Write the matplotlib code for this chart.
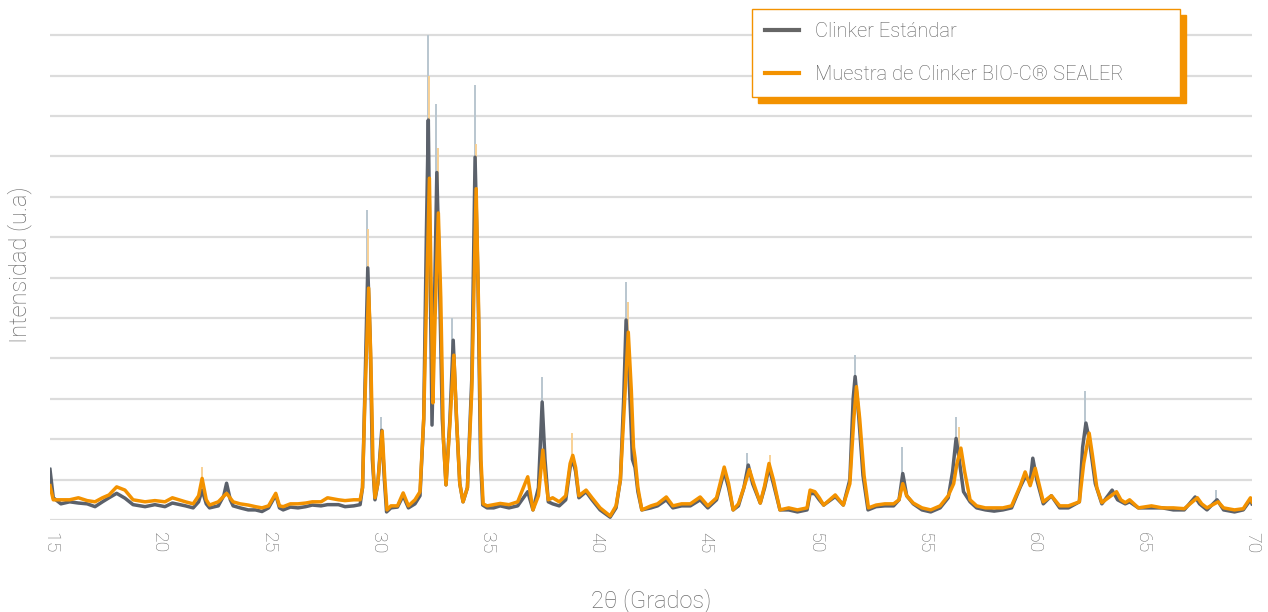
import matplotlib
matplotlib.use("Agg")
import matplotlib.pyplot as plt
import numpy as np

# ---------------- data ----------------
std_x = [15.0, 15.15, 15.5, 15.9, 16.3, 16.7, 17.06, 17.4, 17.7, 18.05, 18.43, 18.8, 19.35, 19.8,
         20.26, 20.6, 21.2, 21.55, 21.8, 21.96, 22.15, 22.3, 22.7, 22.95, 23.08, 23.25, 23.38, 23.7,
         24.07, 24.4, 24.7, 25.0, 25.33, 25.5, 25.67, 26.0, 26.35, 26.7, 27.0, 27.4, 27.7, 28.2,
         28.5, 28.9, 29.19, 29.3, 29.4, 29.54, 29.65, 29.75, 29.87, 30.0, 30.18, 30.3, 30.4, 30.6,
         30.9, 31.16, 31.4, 31.7, 31.93, 32.1, 32.22, 32.31, 32.4, 32.48, 32.58, 32.7, 32.8, 32.95,
         33.12, 33.3, 33.45, 33.6, 33.75, 33.9, 34.1, 34.3, 34.45, 34.58, 34.7, 34.8, 35.0, 35.3,
         35.6, 36.0, 36.4, 36.86, 37.1, 37.35, 37.52, 37.65, 37.8, 38.0, 38.3, 38.6, 38.8, 38.92,
         39.05, 39.2, 39.53, 39.8, 40.17, 40.63, 40.9, 41.1, 41.25, 41.36, 41.5, 41.65, 41.77, 41.9,
         42.08, 42.5, 42.8, 43.2, 43.5, 43.9, 44.3, 44.75, 45.1, 45.5, 45.85, 46.05, 46.26, 46.5,
         46.75, 46.95, 47.15, 47.5, 47.7, 47.9, 48.1, 48.4, 48.8, 49.2, 49.64, 49.78, 50.0, 50.2,
         50.4, 50.93, 51.3, 51.6, 51.75, 51.84, 52.0, 52.2, 52.43, 52.8, 53.2, 53.6, 53.85, 54.02,
         54.2, 54.5, 54.9, 55.3, 55.73, 56.1, 56.3, 56.46, 56.6, 56.8, 57.1, 57.4, 57.8, 58.2,
         58.6, 59.0, 59.4, 59.62, 59.85, 59.97, 60.15, 60.45, 60.82, 61.2, 61.6, 62.1, 62.25, 62.4,
         62.55, 62.83, 63.13, 63.6, 63.85, 64.2, 64.4, 64.8, 65.4, 65.9, 66.4, 66.9, 67.4, 67.6,
         67.94, 68.4, 68.7, 69.2, 69.6, 69.93, 70.0]
std_y = [1.25, 0.55, 0.4, 0.45, 0.42, 0.4, 0.33, 0.45, 0.55, 0.66, 0.54, 0.38, 0.33, 0.38,
         0.33, 0.42, 0.35, 0.3, 0.45, 0.74, 0.4, 0.3, 0.35, 0.6, 0.91, 0.5, 0.35, 0.3,
         0.25, 0.25, 0.21, 0.3, 0.62, 0.3, 0.25, 0.32, 0.3, 0.33, 0.37, 0.35, 0.38, 0.38,
         0.33, 0.35, 0.38, 0.8, 3.0, 6.24, 4.5, 1.5, 0.5, 0.9, 2.22, 1.0, 0.2, 0.3,
         0.32, 0.6, 0.3, 0.4, 0.6, 2.5, 7.0, 9.9, 6.0, 2.35, 5.0, 8.6, 6.5, 2.5,
         0.87, 2.5, 4.45, 2.5, 0.9, 0.45, 0.8, 3.5, 8.98, 6.0, 1.5, 0.37, 0.3, 0.3,
         0.35, 0.3, 0.35, 0.7, 0.25, 0.8, 2.92, 1.5, 0.45, 0.4, 0.35, 0.5, 1.3, 1.5,
         1.2, 0.55, 0.7, 0.5, 0.25, 0.07, 0.3, 1.0, 3.0, 4.95, 3.5, 1.5, 1.3, 0.7,
         0.25, 0.3, 0.35, 0.5, 0.3, 0.35, 0.35, 0.5, 0.3, 0.5, 1.2, 0.8, 0.25, 0.35,
         0.8, 1.36, 0.9, 0.42, 0.8, 1.3, 0.9, 0.25, 0.25, 0.2, 0.25, 0.66, 0.65, 0.5,
         0.37, 0.58, 0.37, 1.0, 3.0, 3.55, 2.6, 1.1, 0.25, 0.33, 0.35, 0.35, 0.5, 1.15,
         0.6, 0.4, 0.25, 0.2, 0.3, 0.55, 1.2, 2.02, 1.5, 0.7, 0.45, 0.3, 0.25, 0.22,
         0.25, 0.3, 0.82, 1.07, 0.95, 1.53, 1.0, 0.4, 0.6, 0.3, 0.3, 0.45, 1.8, 2.4,
         2.0, 0.9, 0.4, 0.74, 0.5, 0.4, 0.45, 0.3, 0.3, 0.3, 0.25, 0.25, 0.57, 0.4,
         0.25, 0.5, 0.25, 0.2, 0.25, 0.5, 0.4]

bio_x = [15.0, 15.15, 15.5, 15.9, 16.3, 16.7, 17.06, 17.4, 17.7, 18.05, 18.43, 18.8, 19.35, 19.8,
         20.26, 20.6, 21.2, 21.55, 21.8, 21.96, 22.15, 22.3, 22.7, 23.08, 23.38, 23.7, 24.07, 24.4,
         24.7, 25.0, 25.33, 25.5, 25.67, 26.0, 26.35, 26.7, 27.0, 27.4, 27.7, 28.2, 28.5, 28.9,
         29.19, 29.3, 29.4, 29.58, 29.68, 29.78, 29.87, 30.0, 30.2, 30.32, 30.42, 30.6, 30.9, 31.16,
         31.4, 31.7, 31.93, 32.1, 32.25, 32.36, 32.45, 32.52, 32.62, 32.77, 32.88, 33.0, 33.12, 33.3,
         33.48, 33.62, 33.75, 33.9, 34.1, 34.3, 34.5, 34.62, 34.72, 34.82, 35.0, 35.3, 35.6, 36.0,
         36.4, 36.86, 37.1, 37.35, 37.55, 37.68, 37.8, 38.0, 38.3, 38.6, 38.8, 38.92, 39.05, 39.2,
         39.53, 39.8, 40.17, 40.63, 40.9, 41.1, 41.3, 41.46, 41.6, 41.7, 41.77, 41.9, 42.08, 42.5,
         42.8, 43.2, 43.5, 43.9, 44.3, 44.75, 45.1, 45.5, 45.85, 46.05, 46.26, 46.5, 46.75, 47.0,
         47.2, 47.5, 47.7, 47.9, 48.1, 48.4, 48.8, 49.2, 49.64, 49.78, 50.0, 50.2, 50.4, 50.93,
         51.3, 51.6, 51.78, 51.9, 52.05, 52.25, 52.45, 52.8, 53.2, 53.6, 53.85, 54.02, 54.2, 54.5,
         54.9, 55.3, 55.73, 56.1, 56.35, 56.5, 56.68, 56.85, 57.1, 57.4, 57.8, 58.2, 58.6, 59.0,
         59.4, 59.62, 59.85, 60.08, 60.25, 60.45, 60.82, 61.2, 61.6, 62.1, 62.3, 62.55, 62.7, 62.9,
         63.13, 63.8, 64.0, 64.2, 64.4, 64.8, 65.4, 65.9, 66.4, 66.9, 67.5, 67.7, 67.94, 68.45,
         68.7, 69.2, 69.6, 69.93, 70.0]
bio_y = [0.85, 0.5, 0.5, 0.5, 0.55, 0.48, 0.45, 0.55, 0.62, 0.82, 0.74, 0.5, 0.45, 0.48,
         0.45, 0.55, 0.45, 0.4, 0.6, 1.03, 0.5, 0.37, 0.45, 0.66, 0.45, 0.4, 0.37, 0.33,
         0.3, 0.35, 0.66, 0.35, 0.33, 0.4, 0.4, 0.42, 0.45, 0.45, 0.55, 0.5, 0.48, 0.5,
         0.5, 0.8, 2.8, 5.74, 4.0, 1.4, 0.55, 0.9, 2.2, 1.0, 0.25, 0.35, 0.35, 0.67,
         0.35, 0.5, 0.7, 2.5, 6.0, 8.46, 5.5, 2.9, 5.0, 7.6, 5.5, 2.0, 0.87, 2.4,
         4.08, 2.3, 0.9, 0.45, 0.8, 3.2, 8.2, 5.0, 1.5, 0.4, 0.35, 0.38, 0.41, 0.38,
         0.45, 1.07, 0.25, 0.6, 1.73, 1.0, 0.5, 0.55, 0.45, 0.6, 1.4, 1.6, 1.3, 0.6,
         0.74, 0.55, 0.3, 0.1, 0.35, 1.0, 3.0, 4.65, 3.2, 1.8, 1.53, 0.8, 0.25, 0.35,
         0.4, 0.57, 0.35, 0.4, 0.4, 0.57, 0.35, 0.55, 1.31, 0.9, 0.25, 0.4, 0.8, 1.25,
         0.9, 0.42, 0.85, 1.4, 1.0, 0.25, 0.3, 0.25, 0.3, 0.74, 0.7, 0.55, 0.37, 0.62,
         0.37, 0.9, 2.5, 3.3, 2.5, 1.1, 0.3, 0.37, 0.4, 0.4, 0.5, 0.9, 0.6, 0.42,
         0.3, 0.25, 0.35, 0.6, 0.9, 1.4, 1.78, 1.2, 0.5, 0.35, 0.3, 0.3, 0.3, 0.35,
         0.85, 1.19, 0.85, 1.28, 0.9, 0.45, 0.6, 0.35, 0.35, 0.45, 1.4, 2.15, 1.6, 0.8,
         0.43, 0.7, 0.5, 0.43, 0.5, 0.3, 0.35, 0.3, 0.3, 0.28, 0.55, 0.4, 0.3, 0.45,
         0.3, 0.25, 0.28, 0.55, 0.45]

# raw-signal spikes (faint) : position and height
std_spike_x = [15.02, 29.5, 30.15, 32.28, 32.65, 33.4, 34.45, 37.5, 41.35, 46.9, 51.82, 54.0, 56.45, 62.38, 68.35]
std_spike_y = [1.3, 7.67, 2.55, 12.0, 10.3, 5.0, 10.77, 3.54, 5.9, 1.65, 4.08, 1.8, 2.56, 3.2, 0.75]
bio_spike_x = [21.95, 29.56, 32.34, 32.75, 34.5, 38.9, 41.45, 47.95, 56.6]
bio_spike_y = [1.3, 7.2, 11.0, 9.2, 9.3, 2.15, 5.4, 1.6, 2.3]

x_ticks = [15, 20, 25, 30, 35, 40, 45, 50, 55, 60, 65, 70]
y_grid = list(range(0, 13))

series_labels = ["Clinker Estándar", "Muestra de Clinker BIO-C® SEALER"]

# ---------------- styling ----------------
GRAY = "#5b616b"
ORANGE = "#f39200"
TEXT = "#6e6e6e"
FONT = ["Roboto", "DejaVu Sans"]

plt.rcParams["font.family"] = FONT

fig = plt.figure(figsize=(12.68, 6.12), dpi=100)
ax = fig.add_axes([50 / 1268, 1 - 520 / 612, 1202 / 1268, (12.2 * 40.4) / 612])

ax.set_xlim(15, 70)
ax.set_ylim(0, 12.2)

for g in y_grid:
    ax.axhline(g, color="#dcdcdc", lw=1.6, zorder=0)

# faint raw spikes
std_base = np.interp(std_spike_x, std_x, std_y)
bio_base = np.interp(bio_spike_x, bio_x, bio_y)
ax.vlines(std_spike_x, std_base, std_spike_y, color="#b9c6cf", lw=1.4, zorder=1)
ax.vlines(bio_spike_x, bio_base, bio_spike_y, color="#f8d196", lw=1.4, zorder=1)

ax.plot(std_x, std_y, color=GRAY, lw=2.5, zorder=3, solid_joinstyle="round",
        label=series_labels[0])
ax.plot(bio_x, bio_y, color=ORANGE, lw=2.5, zorder=4, solid_joinstyle="round",
        label=series_labels[1])

for s in ax.spines.values():
    s.set_visible(False)

ax.set_yticks([])
ax.set_xticks(x_ticks)
ax.set_xticklabels([str(t) for t in x_ticks], rotation=-90, fontsize=14,
                   color=TEXT, fontweight="light")
ax.tick_params(axis="x", length=0, pad=9)

ax.set_ylabel("Intensidad (u.a)", fontsize=17, color=TEXT, fontweight="light")
ax.yaxis.set_label_coords(-0.015, 0.517)
ax.set_xlabel("2θ (Grados)", fontsize=17, color=TEXT, fontweight="light")
ax.xaxis.set_label_coords(0.5, -0.138)

handles = [plt.Line2D([], [], color="#666666", lw=3),
           plt.Line2D([], [], color=ORANGE, lw=3)]
leg = fig.legend(handles, series_labels,
                 loc="upper left",
                 bbox_to_anchor=(752 / 1268, 1 - 10 / 612, 428 / 1268, 0.001),
                 mode="expand",
                 frameon=True, fancybox=False,
                 edgecolor=ORANGE, facecolor="white", framealpha=1,
                 shadow={"color": ORANGE, "alpha": 1, "ox": 4.3, "oy": -4.3},
                 fontsize=14.5, handlelength=1.7, handletextpad=0.8,
                 labelspacing=1.18, borderpad=0.65, borderaxespad=0)
leg.get_frame().set_linewidth(1.0)
for t in leg.get_texts():
    t.set_color("#5e5e5e")
    t.set_fontweight("light")

fig.savefig("out.png", dpi=100, facecolor="white")
